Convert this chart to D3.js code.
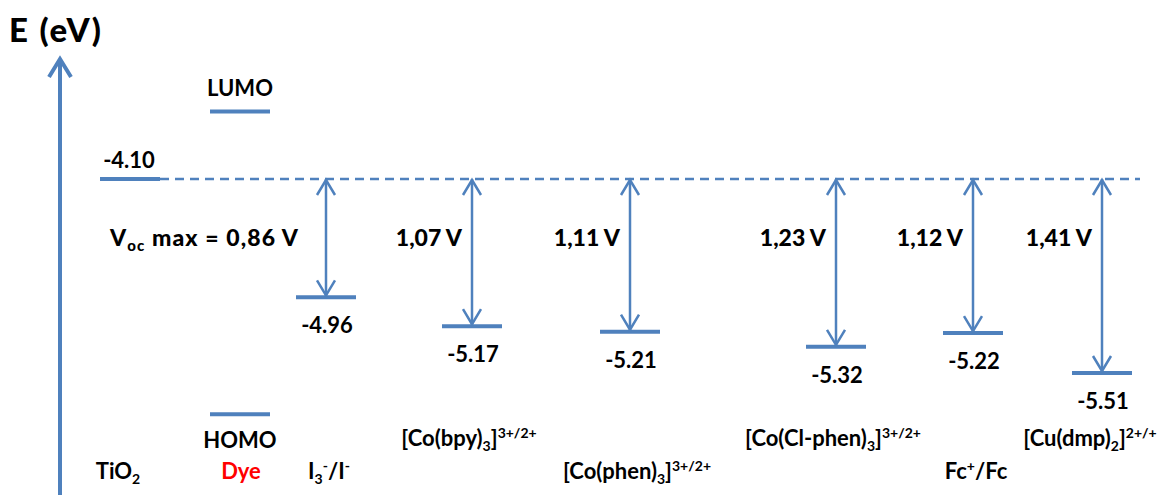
<!DOCTYPE html>
<html><head><meta charset="utf-8">
<script src="https://cdn.jsdelivr.net/npm/d3@7/dist/d3.min.js"></script>
<style>
html,body{margin:0;padding:0;background:#fff;}
text{font-family:Lato,"Open Sans",sans-serif;font-weight:700;fill:#000;}
</style></head>
<body><svg id="c" width="1176" height="495"></svg>
<script>
// ---- data ----
const couples = ["TiO2", "I3-/I-", "[Co(bpy)3]3+/2+", "[Co(phen)3]3+/2+", "[Co(Cl-phen)3]3+/2+", "Fc+/Fc", "[Cu(dmp)2]2+/+"];
const energies = [-4.10, -4.96, -5.17, -5.21, -5.32, -5.22, -5.51];
const energyLabels = ["-4.10", "-4.96", "-5.17", "-5.21", "-5.32", "-5.22", "-5.51"];
const voltageLabels = ["V_oc max = 0,86 V", "1,07 V", "1,11 V", "1,23 V", "1,12 V", "1,41 V"];
const dyeLevels = ["LUMO", "HOMO"];
const dyeEnergies = [-3.61, -5.81];   // schematic

// rich-text pieces for the couple names: [text, mode]
const coupleText = [
  [["TiO",""],["2","sub"]],
  [["I",""],["3","sub"],["-","sup"],["/I",""],["-","sup"]],
  [["[Co(bpy)",""],["3","sub"],["]",""],["3+/2+","sup"]],
  [["[Co(phen)",""],["3","sub"],["]",""],["3+/2+","sup"]],
  [["[Co(Cl-phen)",""],["3","sub"],["]",""],["3+/2+","sup"]],
  [["Fc",""],["+","sup"],["/Fc",""]],
  [["[Cu(dmp)",""],["2","sub"],["]",""],["2+/+","sup"]]
];

// ---- layout (not data) ----
const W = 1176, H = 495;
const blue = "#4f81bd";
const slotX = [130, 326, 472, 630, 836, 973, 1102];
const labelRow = [2, 2, 1, 2, 1, 2, 1];
const labelDx = [-12, 3, -3, 7, -3, 3, -12];
const dyeX = 240;
const axisX = 60;
const halfW = 30;

const svg = d3.select("#c");
const y = d3.scaleLinear().domain([-4.10, -5.51]).range([179, 373]);
const yRef = y(energies[0]);

// axis arrow
svg.append("line").attr("x1", axisX).attr("x2", axisX).attr("y1", 60).attr("y2", H)
  .attr("stroke", blue).attr("stroke-width", 4);
svg.append("path").attr("d", d3.line()([[axisX - 11, 77], [axisX, 59], [axisX + 11, 77]]))
  .attr("fill", "none").attr("stroke", blue).attr("stroke-width", 4).attr("stroke-linejoin", "miter");
svg.append("text").attr("x", 9).attr("y", 42).style("font-size", "33px").style("font-weight", 900)
  .attr("textLength", 92).text("E (eV)");

// dashed reference line (TiO2 conduction band)
svg.append("line").attr("x1", slotX[0] + halfW).attr("x2", 1140).attr("y1", yRef).attr("y2", yRef)
  .attr("stroke", blue).attr("stroke-width", 2.5).attr("stroke-dasharray", "9,6");

// levels
svg.selectAll("line.lvl").data(energies).join("line").attr("class", "lvl")
  .attr("x1", (d, i) => slotX[i] - halfW).attr("x2", (d, i) => slotX[i] + halfW)
  .attr("y1", d => y(d)).attr("y2", d => y(d))
  .attr("stroke", blue).attr("stroke-width", 4);

// dye levels
svg.selectAll("line.dye").data(dyeEnergies).join("line").attr("class", "dye")
  .attr("x1", dyeX - 30).attr("x2", dyeX + 30)
  .attr("y1", d => y(d)).attr("y2", d => y(d))
  .attr("stroke", blue).attr("stroke-width", 4);
svg.append("text").attr("x", dyeX).attr("y", y(dyeEnergies[0]) - 16).attr("text-anchor", "middle")
  .style("font-size", "22px").text(dyeLevels[0]);
svg.append("text").attr("x", dyeX).attr("y", 448).attr("text-anchor", "middle")
  .style("font-size", "22px").text(dyeLevels[1]);
svg.append("text").attr("x", dyeX + 1).attr("y", 479).attr("text-anchor", "middle")
  .style("font-size", "22px").style("fill", "#ff0000").text("Dye");

// energy value labels
svg.selectAll("text.val").data(energies).join("text").attr("class", "val")
  .attr("x", (d, i) => i === 0 ? slotX[i] - 1 : slotX[i] + 1)
  .attr("y", (d, i) => i === 0 ? y(d) - 11 : y(d) + 36)
  .attr("text-anchor", "middle").style("font-size", "22px")
  .text((d, i) => energyLabels[i]);

// double arrows
const arrows = energies.slice(1);
const ag = svg.selectAll("g.arr").data(arrows).join("g").attr("class", "arr");
ag.append("line").attr("x1", (d, i) => slotX[i + 1]).attr("x2", (d, i) => slotX[i + 1])
  .attr("y1", yRef).attr("y2", d => y(d) - 1)
  .attr("stroke", blue).attr("stroke-width", 2.5);
ag.append("path").attr("d", (d, i) => {
    const x = slotX[i + 1], t = yRef + 1, b = y(d) - 2;
    return d3.line()([[x - 9, t + 15], [x, t], [x + 9, t + 15]]) +
           d3.line()([[x - 9, b - 15], [x, b], [x + 9, b - 15]]);
  }).attr("fill", "none").attr("stroke", blue).attr("stroke-width", 2.5);

// voltage labels
ag.append("text").attr("x", (d, i) => slotX[i + 1] - (i === 0 ? 28 : 10)).attr("y", 246)
  .attr("text-anchor", "end").style("font-size", "23px").style("font-weight", 900)
  .each(function(d, i) {
    const s = voltageLabels[i], t = d3.select(this);
    if (s.startsWith("V_oc")) {
      t.attr("textLength", 188);
      t.append("tspan").text("V");
      t.append("tspan").attr("dy", 5).style("font-size", "15px").text("oc");
      t.append("tspan").attr("dy", -5).text(s.slice(4));
    } else t.text(s);
  });

// couple names
svg.selectAll("text.name").data(couples).join("text").attr("class", "name")
  .attr("x", (d, i) => slotX[i] + labelDx[i])
  .attr("y", (d, i) => labelRow[i] === 1 ? 446 : 479)
  .attr("text-anchor", "middle").style("font-size", "22px")
  .each(function(d, i) {
    const t = d3.select(this);
    let shift = 0;
    coupleText[i].forEach(([s, m]) => {
      const sp = t.append("tspan").text(s);
      let target = 0;
      if (m === "sub") { target = 5; sp.style("font-size", "14px"); }
      else if (m === "sup") { target = -8; sp.style("font-size", "14px"); }
      sp.attr("dy", target - shift);
      shift = target;
    });
  });
</script></body></html>
